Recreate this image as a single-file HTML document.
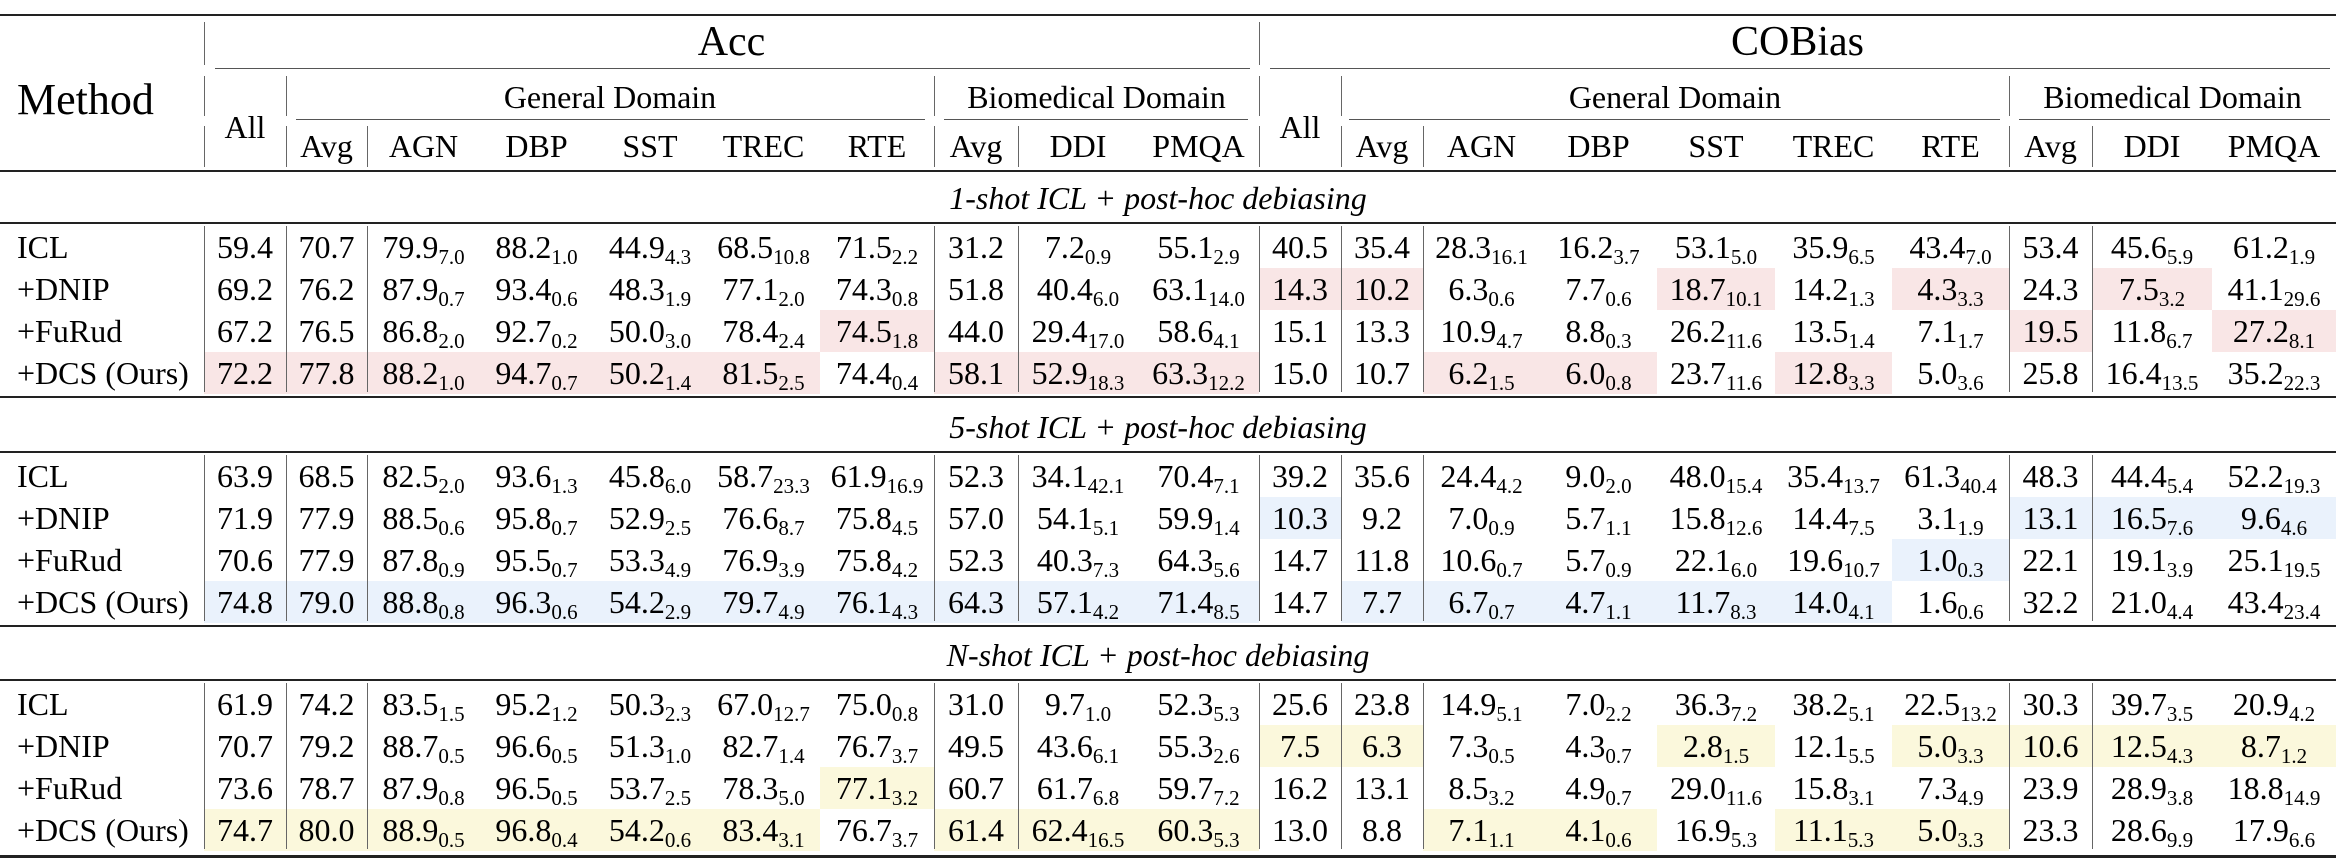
<!DOCTYPE html>
<html><head><meta charset="utf-8">
<style>
html,body{margin:0;padding:0;background:#fff;}
#t{position:relative;width:2336px;height:864px;overflow:hidden;font-family:"Liberation Serif",serif;color:#000;}
.c{position:absolute;white-space:nowrap;text-align:center;line-height:1;}
.h{position:absolute;background:#222;}
.v{position:absolute;width:1px;background:#666;}
.bg{position:absolute;}
sub{font-size:21px;vertical-align:-6px;line-height:0;}
</style></head><body>
<div id="t"></div>
<script>
const methods=["ICL","+DNIP","+FuRud","+DCS (Ours)"];
const sections=["1-shot ICL + post-hoc debiasing","5-shot ICL + post-hoc debiasing","N-shot ICL + post-hoc debiasing"];
const colHeads=["All","Avg","AGN","DBP","SST","TREC","RTE","Avg","DDI","PMQA","All","Avg","AGN","DBP","SST","TREC","RTE","Avg","DDI","PMQA"];
const s1=[
["59.4","70.7","79.9_7.0","88.2_1.0","44.9_4.3","68.5_10.8","71.5_2.2","31.2","7.2_0.9","55.1_2.9","40.5","35.4","28.3_16.1","16.2_3.7","53.1_5.0","35.9_6.5","43.4_7.0","53.4","45.6_5.9","61.2_1.9"],
["69.2","76.2","87.9_0.7","93.4_0.6","48.3_1.9","77.1_2.0","74.3_0.8","51.8","40.4_6.0","63.1_14.0","14.3","10.2","6.3_0.6","7.7_0.6","18.7_10.1","14.2_1.3","4.3_3.3","24.3","7.5_3.2","41.1_29.6"],
["67.2","76.5","86.8_2.0","92.7_0.2","50.0_3.0","78.4_2.4","74.5_1.8","44.0","29.4_17.0","58.6_4.1","15.1","13.3","10.9_4.7","8.8_0.3","26.2_11.6","13.5_1.4","7.1_1.7","19.5","11.8_6.7","27.2_8.1"],
["72.2","77.8","88.2_1.0","94.7_0.7","50.2_1.4","81.5_2.5","74.4_0.4","58.1","52.9_18.3","63.3_12.2","15.0","10.7","6.2_1.5","6.0_0.8","23.7_11.6","12.8_3.3","5.0_3.6","25.8","16.4_13.5","35.2_22.3"]];
const s2=[
["63.9","68.5","82.5_2.0","93.6_1.3","45.8_6.0","58.7_23.3","61.9_16.9","52.3","34.1_42.1","70.4_7.1","39.2","35.6","24.4_4.2","9.0_2.0","48.0_15.4","35.4_13.7","61.3_40.4","48.3","44.4_5.4","52.2_19.3"],
["71.9","77.9","88.5_0.6","95.8_0.7","52.9_2.5","76.6_8.7","75.8_4.5","57.0","54.1_5.1","59.9_1.4","10.3","9.2","7.0_0.9","5.7_1.1","15.8_12.6","14.4_7.5","3.1_1.9","13.1","16.5_7.6","9.6_4.6"],
["70.6","77.9","87.8_0.9","95.5_0.7","53.3_4.9","76.9_3.9","75.8_4.2","52.3","40.3_7.3","64.3_5.6","14.7","11.8","10.6_0.7","5.7_0.9","22.1_6.0","19.6_10.7","1.0_0.3","22.1","19.1_3.9","25.1_19.5"],
["74.8","79.0","88.8_0.8","96.3_0.6","54.2_2.9","79.7_4.9","76.1_4.3","64.3","57.1_4.2","71.4_8.5","14.7","7.7","6.7_0.7","4.7_1.1","11.7_8.3","14.0_4.1","1.6_0.6","32.2","21.0_4.4","43.4_23.4"]];
const s3=[
["61.9","74.2","83.5_1.5","95.2_1.2","50.3_2.3","67.0_12.7","75.0_0.8","31.0","9.7_1.0","52.3_5.3","25.6","23.8","14.9_5.1","7.0_2.2","36.3_7.2","38.2_5.1","22.5_13.2","30.3","39.7_3.5","20.9_4.2"],
["70.7","79.2","88.7_0.5","96.6_0.5","51.3_1.0","82.7_1.4","76.7_3.7","49.5","43.6_6.1","55.3_2.6","7.5","6.3","7.3_0.5","4.3_0.7","2.8_1.5","12.1_5.5","5.0_3.3","10.6","12.5_4.3","8.7_1.2"],
["73.6","78.7","87.9_0.8","96.5_0.5","53.7_2.5","78.3_5.0","77.1_3.2","60.7","61.7_6.8","59.7_7.2","16.2","13.1","8.5_3.2","4.9_0.7","29.0_11.6","15.8_3.1","7.3_4.9","23.9","28.9_3.8","18.8_14.9"],
["74.7","80.0","88.9_0.5","96.8_0.4","54.2_0.6","83.4_3.1","76.7_3.7","61.4","62.4_16.5","60.3_5.3","13.0","8.8","7.1_1.1","4.1_0.6","16.9_5.3","11.1_5.3","5.0_3.3","23.3","28.6_9.9","17.9_6.6"]];
// highlight masks (1 = shaded)
const hl1=[[0,0,0,0,0,0,0,0,0,0,0,0,0,0,0,0,0,0,0,0],[0,0,0,0,0,0,0,0,0,0,1,1,0,0,1,0,1,0,1,0],[0,0,0,0,0,0,1,0,0,0,0,0,0,0,0,0,0,1,0,1],[1,1,1,1,1,1,0,1,1,1,0,0,1,1,0,1,0,0,0,0]];
const hl2=[[0,0,0,0,0,0,0,0,0,0,0,0,0,0,0,0,0,0,0,0],[0,0,0,0,0,0,0,0,0,0,1,0,0,0,0,0,0,1,1,1],[0,0,0,0,0,0,0,0,0,0,0,0,0,0,0,0,1,0,0,0],[1,1,1,1,1,1,1,1,1,1,0,1,1,1,1,1,0,0,0,0]];
const hl3=[[0,0,0,0,0,0,0,0,0,0,0,0,0,0,0,0,0,0,0,0],[0,0,0,0,0,0,0,0,0,0,1,1,0,0,1,0,1,1,1,1],[0,0,0,0,0,0,1,0,0,0,0,0,0,0,0,0,0,0,0,0],[1,1,1,1,1,1,0,1,1,1,0,0,1,1,0,1,1,0,0,0]];

const T=document.getElementById('t');
const edges=[204,286,367,480,593,707,820,934,1018,1138,1259,1341,1423,1540,1657,1775,1892,2009,2092,2212,2336];
function el(cls,css,html){const d=document.createElement('div');d.className=cls;Object.assign(d.style,css);if(html!==undefined)d.innerHTML=html;T.appendChild(d);return d;}
function fmt(s){const p=s.split('_');return p.length>1?p[0]+'<sub>'+p[1]+'</sub>':p[0];}
function ctext(x0,x1,yc,html,size,name,extra){const d=el('c',Object.assign({left:x0+'px',width:(x1-x0)+'px',top:(yc-size*0.5)+'px',fontSize:size+'px'},extra||{}),html);return d;}
function hrule(x0,x1,y,h,name,col){const d=el('h',{left:x0+'px',width:(x1-x0)+'px',top:y+'px',height:h+'px',background:col||'#222'});}
function vline(x,y0,y1){const d=el('v',{left:x+'px',top:y0+'px',height:(y1-y0)+'px'});}

// header
hrule(0,2336,14,2,'top-rule');
ctext(0,204,100,'Method',44,'method-header',{textAlign:'left',left:'17px'});
ctext(204,1259,42,'Acc',42,'acc-header');
ctext(1259,2336,42,'COBias',42,'cobias-header');
hrule(215,1250,68,1,'acc-cmidrule','#555');hrule(1270,2330,68,1,'cobias-cmidrule','#555');
ctext(286,934,97,'General Domain',32,'acc-general-domain-header');
ctext(934,1259,97,'Biomedical Domain',32,'acc-biomedical-domain-header');
ctext(1341,2009,97,'General Domain',32,'cobias-general-domain-header');
ctext(2009,2336,97,'Biomedical Domain',32,'cobias-biomedical-domain-header');
hrule(296,925,119,1,'cmidrule','#555');hrule(944,1248,119,1,'cmidrule','#555');
hrule(1349,2000,119,1,'cmidrule','#555');hrule(2019,2330,119,1,'cmidrule','#555');
colHeads.forEach((h,i)=>{const yc=(i===0||i===10)?127:146;ctext(edges[i],edges[i+1],yc,h,32,'column-header-'+h.toLowerCase());});
// header verticals
vline(204,22,65);vline(204,76,116);vline(204,126,167);
vline(1259,22,65);vline(1259,76,116);vline(1259,126,167);
[286,934,1341,2009].forEach(x=>{vline(x,76,116);vline(x,126,167);});
[367,1018,1423,2092].forEach(x=>vline(x,126,167));
hrule(0,2336,170,2,'header-bottom-rule');

const secs=[[s1,hl1,'#f9e6e6'],[s2,hl2,'#eaf2fc'],[s3,hl3,'#fbf8dc']];
const secTop=[171,400,628];
const vx=[204,286,367,934,1018,1259,1341,1423,2009,2092];
secs.forEach((sd,si)=>{
  const top=secTop[si];
  ctext(0,2336,top+27,sections[si],32,'section-title',{fontStyle:'italic',left:'-10px'});
  const r=top+51;hrule(0,2336,r,2,'section-rule');
  sd[0].forEach((row,ri)=>{
    const yc=r+25+ri*42;
    row.forEach((v,ci)=>{
      if(sd[1][ri][ci]){const b=el('bg',{left:edges[ci]+'px',width:(edges[ci+1]-edges[ci])+'px',top:(yc-21)+'px',height:'42px',background:sd[2]});
        }
    });
    ctext(0,204,yc,methods[ri],32,'method-label',{textAlign:'left',left:'17px'});
    row.forEach((v,ci)=>ctext(edges[ci],edges[ci+1],yc,fmt(v),32,'value-cell'));
  });
  vx.forEach(x=>vline(x,r+4,r+2+4*42));
  if(si<2)hrule(0,2336,r+2+4*42+4,2,'section-bottom-rule');
});
hrule(0,2336,855,3,'bottom-rule');
</script>
</body></html>
